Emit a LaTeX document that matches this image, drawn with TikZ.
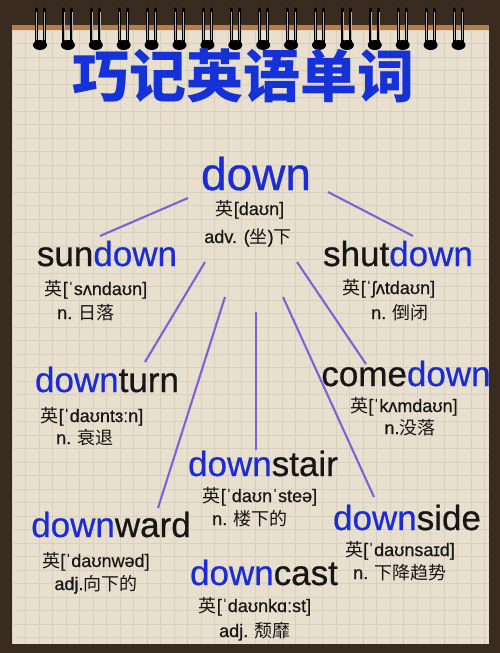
\documentclass[tikz,border=0pt]{standalone}
\usepackage{fontspec}
\setmainfont{Liberation Sans}[FakeBold=0.6]
\newfontfamily\cjk{Noto Sans CJK SC}
\definecolor{wood}{HTML}{3A2B21}
\definecolor{paper}{HTML}{E8DFCF}
\definecolor{paperedge}{HTML}{B97B4B}
\definecolor{gridc}{HTML}{D9CFBF}
\definecolor{dblue}{HTML}{1A2CD2}
\definecolor{tblue}{HTML}{1532D8}
\definecolor{ink}{HTML}{161616}
\definecolor{linec}{HTML}{7B63D6}
\newcommand\dn{\textcolor{dblue}{down}}
\newcommand\zh[1]{{\cjk #1}}
\begin{document}
\begin{tikzpicture}[x=1pt,y=-1pt,
  bigword/.style={font=\fontsize{46}{50}\selectfont, anchor=base, inner sep=0pt, text=dblue},
  word/.style={font=\fontsize{35}{40}\selectfont, anchor=base, inner sep=0pt, text=ink},
  ph/.style={font=\fontsize{18}{20}\selectfont, anchor=base, inner sep=0pt, text=ink},
  link/.style={draw=linec, line width=2.1pt},
  wire/.style={line width=3pt, line cap=round, draw=black}]
\useasboundingbox (0,0) rectangle (500,653);
% background
\fill[wood] (0,0) rectangle (500,653);
\fill[paper] (12,27) rectangle (489,644);
\fill[paperedge] (12,25) rectangle (489,30);
\foreach \x in {12,25.5,...,489} \draw[gridc, line width=0.5pt] (\x,30) -- (\x,644);
\foreach \y in {30,43.5,...,644} \draw[gridc, line width=0.5pt] (12,\y) -- (489,\y);
% spiral rings
\foreach \i in {0,...,15} {
  \pgfmathsetmacro\cx{40+27.9*\i}
  \fill[black] (\cx,45) ellipse (7pt and 5pt);
  \draw[wire] (\cx-4,9) -- (\cx-4,44);
  \draw[wire] (\cx+4,9) -- (\cx+4,44);
  \draw[gray!60, line width=0.6pt] (\cx-4,12) -- (\cx-4,40);
  \draw[gray!60, line width=0.6pt] (\cx+4,12) -- (\cx+4,40);
}
% title
\node[font=\cjk\bfseries\fontsize{57}{60}\selectfont, text=tblue, inner sep=0pt] (title) at (243,76) {巧记英语单词};
% central word
\node[bigword] (down) at (256,190) {down};
\node[ph] (downph) at (250,215) {\zh{英}[daʊn]};
\node[ph] (downdef) at (248,243) {adv. (\zh{坐})\zh{下}};
% sundown
\node[word] (sundown) at (107,266) {sun\dn};
\node[ph] (sundownph) at (96,295) {\zh{英}[ˈsʌndaʊn]};
\node[ph] (sundowndef) at (86,319) {n. \zh{日落}};
% shutdown
\node[word] (shutdown) at (398,266) {shut\dn};
\node[ph] (shutdownph) at (389,294) {\zh{英}[ˈʃʌtdaʊn]};
\node[ph] (shutdowndef) at (400,319) {n. \zh{倒闭}};
% downturn
\node[word] (downturn) at (107,392) {\dn turn};
\node[ph] (downturnph) at (92,422) {\zh{英}[ˈdaʊntɜːn]};
\node[ph] (downturndef) at (85,444) {n. \zh{衰退}};
% comedown
\node[word] (comedown) at (406,386) {come\dn};
\node[ph] (comedownph) at (404,412) {\zh{英}[ˈkʌmdaʊn]};
\node[ph] (comedowndef) at (410,434) {n.\zh{没落}};
% downstair
\node[word] (downstair) at (263,476) {\dn stair};
\node[ph] (downstairph) at (260,502) {\zh{英}[ˈdaʊnˈsteə]};
\node[ph] (downstairdef) at (250,525) {n. \zh{楼下的}};
% downward
\node[word] (downward) at (111,537) {\dn ward};
\node[ph] (downwardph) at (96,567) {\zh{英}[ˈdaʊnwəd]};
\node[ph] (downwarddef) at (96,590) {adj.\zh{向下的}};
% downside
\node[word] (downside) at (407,530) {\dn side};
\node[ph] (downsideph) at (400,556) {\zh{英}[ˈdaʊnsaɪd]};
\node[ph] (downsidedef) at (400,579) {n. \zh{下降趋势}};
% downcast
\node[word] (downcast) at (264,585) {\dn cast};
\node[ph] (downcastph) at (255,612) {\zh{英}[ˈdaʊnkɑːst]};
\node[ph] (downcastdef) at (255,637) {adj. \zh{颓靡}};
% connector end points
\coordinate (s1) at (188,198); \coordinate (e1) at (100,236);
\coordinate (s2) at (328,192); \coordinate (e2) at (413,236);
\coordinate (s3) at (205,262); \coordinate (e3) at (145,362);
\coordinate (s4) at (225,297); \coordinate (e4) at (158,508);
\coordinate (s5) at (256,312); \coordinate (e5) at (256,450);
\coordinate (s6) at (283,297); \coordinate (e6) at (374,497);
\coordinate (s7) at (297,262); \coordinate (e7) at (366,364);
\foreach \k in {1,...,7} \draw[link] (s\k) -- (e\k);
\end{tikzpicture}
\end{document}
